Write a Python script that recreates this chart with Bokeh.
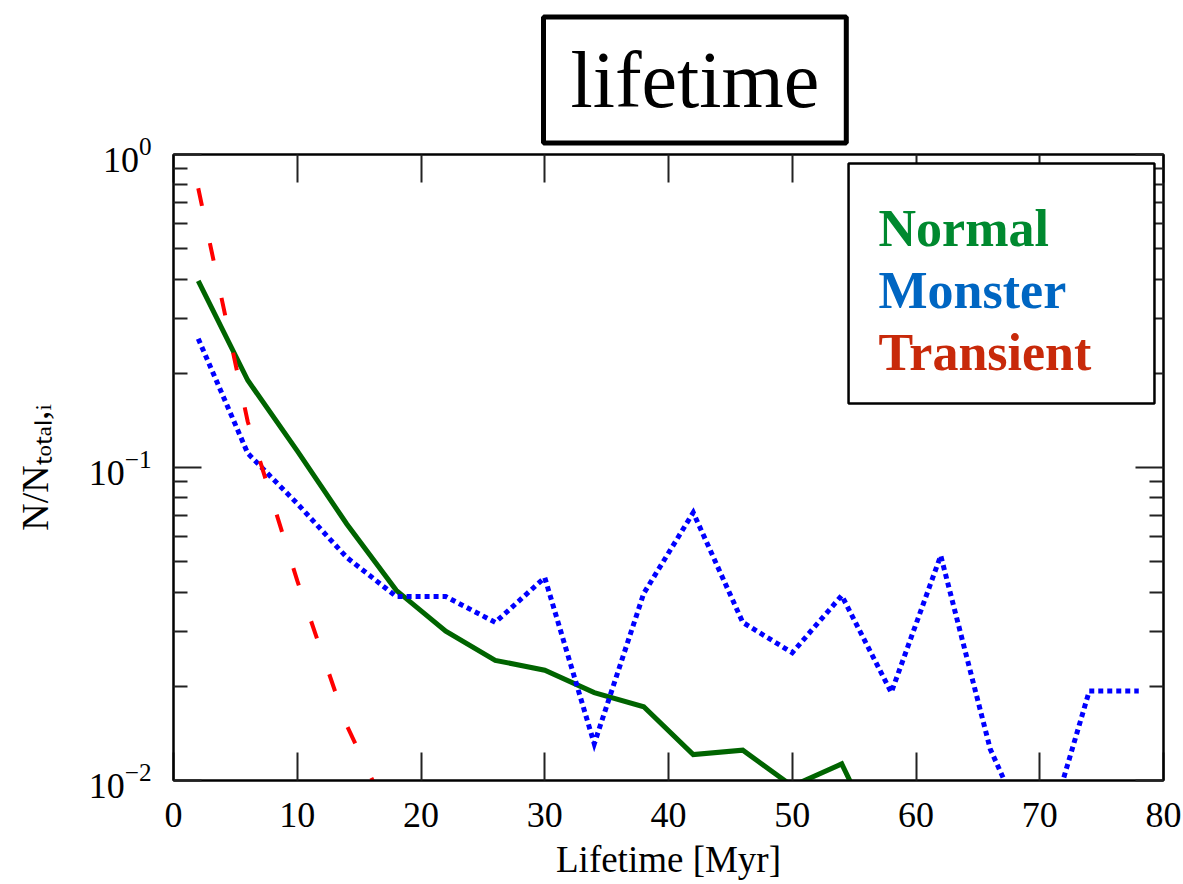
import math
from bokeh.plotting import figure
from bokeh.models import (Label, BoxAnnotation, LinearAxis, LogAxis, Title,
                          FixedTicker, Range1d)
from bokeh.embed import file_html
from bokeh.resources import INLINE

# ---- data ----
normal_x = [2, 6, 10, 14, 18, 22, 26, 30, 34, 38, 42, 46, 50, 54, 58]
normal_y = [0.395, 0.19, 0.113, 0.066, 0.0405, 0.030, 0.0242, 0.0225, 0.0191,
            0.0172, 0.0121, 0.0125, 0.0096, 0.0113, 0.0053]

monster_x = [2, 6, 10, 14, 18, 22, 26, 30, 34, 38, 42, 46, 50, 54, 58, 62, 66, 70, 74, 78]
monster_y = [0.258, 0.111, 0.0767, 0.0516, 0.0387, 0.0387, 0.032, 0.0445, 0.0131,
             0.0396, 0.0718, 0.032, 0.0256, 0.039, 0.0191, 0.0523, 0.0126, 0.0056,
             0.0193, 0.0193]

transient_x = [2, 6, 10, 14, 18, 22]
transient_y = [0.78, 0.14, 0.0435, 0.015, 0.0069, 0.003]

x_ticks = [0, 10, 20, 30, 40, 50, 60, 70, 80]
y_major = [0.01, 0.1, 1.0]
y_minor = [0.02, 0.03, 0.04, 0.05, 0.06, 0.07, 0.08, 0.09,
           0.2, 0.3, 0.4, 0.5, 0.6, 0.7, 0.8, 0.9]
legend_names = ["Normal", "Monster", "Transient"]
legend_colors = ["#00892f", "#0066c2", "#c8290a"]

SERIF = "Liberation Serif"

p = figure(width=1183, height=884, title=None,
           x_range=Range1d(0, 80), y_range=Range1d(0.01, 1),
           y_axis_type="log", output_backend="svg", toolbar_location=None,
           min_border_left=173, min_border_right=20, min_border_top=154,
           min_border_bottom=104, x_axis_location=None, y_axis_location=None)
p.background_fill_color = "white"
p.border_fill_color = "white"
p.outline_line_color = "black"
p.outline_line_width = 2
p.xgrid.visible = False
p.ygrid.visible = False


def style_axis(ax, labels=True):
    ax.axis_line_color = "black"
    ax.axis_line_width = 2
    ax.major_tick_in = 28
    ax.major_tick_out = 0
    ax.minor_tick_in = 14
    ax.minor_tick_out = 0
    ax.major_tick_line_color = "#222222"
    ax.minor_tick_line_color = "#222222"
    ax.major_tick_line_width = 2
    ax.minor_tick_line_width = 2
    ax.major_label_text_font = SERIF
    ax.major_label_text_font_size = "36px"
    ax.major_label_text_color = "black" if labels else None
    ax.major_label_standoff = 16 if labels else 0


xb = LinearAxis(ticker=FixedTicker(ticks=x_ticks, minor_ticks=[]))
style_axis(xb)
xb.major_label_standoff = 22
xb.axis_label = "Lifetime [Myr]"
xb.axis_label_text_font = SERIF
xb.axis_label_text_font_size = "37px"
xb.axis_label_text_font_style = "normal"
xb.axis_label_text_color = "black"
xb.axis_label_standoff = 9
p.add_layout(xb, "below")

xa = LinearAxis(ticker=FixedTicker(ticks=x_ticks, minor_ticks=[]))
style_axis(xa, labels=False)
p.add_layout(xa, "above")

yl = LogAxis(ticker=FixedTicker(ticks=y_major, minor_ticks=y_minor))
style_axis(yl)
yl.major_label_standoff = 22
yl.axis_label = "N/N\u209c\u2092\u209c\u2090\u2097,\u1d62"
yl.axis_label_text_font = SERIF
yl.axis_label_text_font_size = "38px"
yl.axis_label_text_font_style = "normal"
yl.axis_label_text_color = "black"
yl.axis_label_standoff = 30
p.add_layout(yl, "left")

yr = LogAxis(ticker=FixedTicker(ticks=y_major, minor_ticks=y_minor))
style_axis(yr, labels=False)
p.add_layout(yr, "right")

# ---- title box ----
t = Title(text="lifetime", align="left", offset=370, standoff=23,
          text_font=SERIF, text_font_size="80px", text_font_style="normal",
          text_color="black", border_line_color="black", border_line_width=5,
          background_fill_color="white", padding=(27, 19))
p.add_layout(t, "above")

# ---- series ----
p.line(normal_x, normal_y, line_color="#006400", line_width=5, line_join="miter")
p.line(monster_x, monster_y, line_color="#0000ff", line_width=5,
       line_dash="5 4", line_join="miter")
p.line(transient_x, transient_y, line_color="#ff0000", line_width=4,
       line_dash="18 38")

# ---- legend box ----
p.add_layout(BoxAnnotation(left=54.55, right=79.27, top=0.936, bottom=0.160,
                           fill_color="white", fill_alpha=1.0,
                           line_color="black", line_alpha=1.0, line_width=2.5))
for name, col, yb in zip(legend_names, legend_colors, [0.580, 0.3677, 0.233]):
    p.add_layout(Label(x=56.97, y=yb, text=name, text_color=col,
                       text_font=SERIF, text_font_size="52px",
                       text_font_style="bold", text_baseline="alphabetic"))

open("out.html", "w").write(file_html(p, INLINE))
